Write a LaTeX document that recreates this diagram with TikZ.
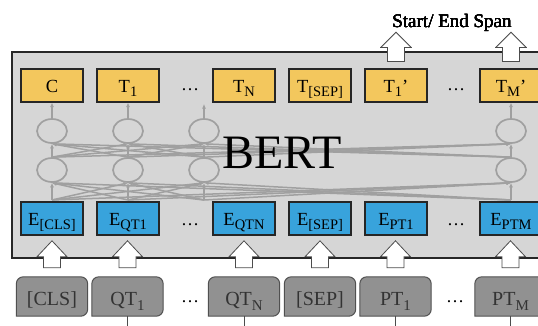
\documentclass[tikz,border=0pt]{standalone}
\usepackage{fontspec}
\setmainfont{Liberation Serif}
\usetikzlibrary{arrows.meta,shapes.geometric,backgrounds}

\definecolor{panelgray}{RGB}{214,214,214}
\definecolor{outyellow}{RGB}{243,199,93}
\definecolor{embblue}{RGB}{56,163,220}
\definecolor{tokgray}{RGB}{145,145,145}
\definecolor{tokline}{RGB}{80,80,80}
\definecolor{netgray}{RGB}{160,160,160}

% lowered index, size set by the box style
\newcommand{\lo}[1]{\raisebox{-.25em}{\fontsize{\subsz}{\subsz}\selectfont #1}}
% white block arrow above a node: node, gap, shaft, head
\newcommand{\blockup}[4]{%
  \draw[blockarrow] ([xshift=-8.5pt,yshift=#2pt]#1.north) -- ++(0,-#3) -- ++(-6.5,0)
    -- ++(15,-#4) -- ++(15,#4) -- ++(-6.5,0) -- ++(0,#3) -- cycle;}

\tikzset{
  panel/.style={draw=black!85,line width=1.8pt,fill=panelgray},
  outbox/.style={draw=black!85,line width=1.2pt,fill=outyellow,minimum width=62pt,
    minimum height=33pt,inner sep=0pt,text height=13pt,text depth=0pt,
    font=\fontsize{18.5}{18.5}\selectfont\def\subsz{14.5}},
  embbox/.style={outbox,fill=embblue},
  tokbox/.style={minimum width=71pt,minimum height=39pt,inner sep=0pt,text=black!80,
    text height=17pt,text depth=0pt,font=\fontsize{20}{20}\selectfont\def\subsz{15}},
  tokframe/.style={draw=tokline,line width=1pt,fill=tokgray},
  unit/.style={ellipse,draw=netgray,line width=1.7pt,minimum width=30pt,
    minimum height=24pt,inner sep=0pt},
  net/.style={netgray,line width=1.5pt,-{Latex[length=4.5pt,width=4pt]}},
  blockarrow/.style={draw=black!70,line width=.8pt,fill=white},
  gap/.style={anchor=base,font=\fontsize{18}{18}\selectfont},
}

\begin{document}
\begin{tikzpicture}[x=1pt,y=-1pt]
\useasboundingbox (0,0) rectangle (538,325);
\clip (0,0) rectangle (538,325);
%
\draw[panel] (12,52) rectangle (560,258);
%
\node[outbox] (c) at (52,85.5) {C};
\node[outbox] (t1) at (128,85.5) {T\lo{1}};
\node[gap] at (190,90) {\dots};
\node[outbox] (tn) at (244,85.5) {T\lo{N}};
\node[outbox] (tsep) at (320,85.5) {T\lo{[SEP]}};
\node[outbox] (tp1) at (396,85.5) {T\lo{1}’};
\node[gap] at (456,90) {\dots};
\node[outbox] (tpm) at (511,85.5) {T\lo{M}’};
%
\node[embbox] (ecls) at (52,218.5) {E\lo{[CLS]}};
\node[embbox] (eqt1) at (128,218.5) {E\lo{QT1}};
\node[gap] at (190,225) {\dots};
\node[embbox] (eqtn) at (244,218.5) {E\lo{QTN}};
\node[embbox] (esep) at (320,218.5) {E\lo{[SEP]}};
\node[embbox] (ept1) at (396,218.5) {E\lo{PT1}};
\node[gap] at (456,225) {\dots};
\node[embbox] (eptm) at (511,218.5) {E\lo{PTM}};
%
\node[tokbox] (cls) at (52,296.5) {[CLS]};
\node[tokbox] (qt1) at (127.5,296.5) {QT\lo{1}};
\node[gap] at (190,302) {\dots};
\node[tokbox] (qtn) at (244,296.5) {QT\lo{N}};
\node[tokbox] (sep) at (320,296.5) {[SEP]};
\node[tokbox] (pt1) at (395.5,296.5) {PT\lo{1}};
\node[gap] at (455,302) {\dots};
\node[tokbox] (ptm) at (510.5,296.5) {PT\lo{M}};
\begin{scope}[on background layer]
\foreach \n in {cls,qt1,qtn,sep,pt1,ptm}
  \draw[tokframe] (\n.south west) [rounded corners=7pt] |- (\n.north) -| (\n.south east) [sharp corners] -- cycle;
\end{scope}
\foreach \n in {qt1,qtn,pt1,ptm}
  \draw[black!70,line width=.8pt] (\n.south) -- ++(0,12);
%
% two hidden layers, fully connected
\foreach \n/\x in {1/52,2/128,3/204,4/511} {
  \coordinate (b\n) at (\x,200);
  \node[unit] (lo\n) at (\x,170) {};
  \node[unit] (up\n) at (\x,131) {};
}
\coordinate (a3) at (204,104);
\foreach \i in {1,...,4}
  \foreach \j in {1,...,4} {
    \draw[net] (b\i) -- (lo\j.south);
    \draw[net] (lo\i.north) -- (up\j.south);
  }
\draw[net] (up1.north) -- (c.south);
\draw[net] (up2.north) -- (t1.south);
\draw[net] (up3.north) -- (a3);
\draw[net] (up4.north) -- (tpm.south);
%
\node[font=\fontsize{48}{48}\selectfont] (bert) at (282,153) {BERT};
%
\foreach \n in {cls,qt1,qtn,sep,pt1,ptm}
  \blockup{\n}{9}{11}{16}
\blockup{tp1}{7}{14}{15}
\blockup{tpm}{7}{14}{15}
\node[anchor=base,font=\fontsize{19}{19}\selectfont] (span) at (452,27) {Start/ End Span};
\end{tikzpicture}
\end{document}
